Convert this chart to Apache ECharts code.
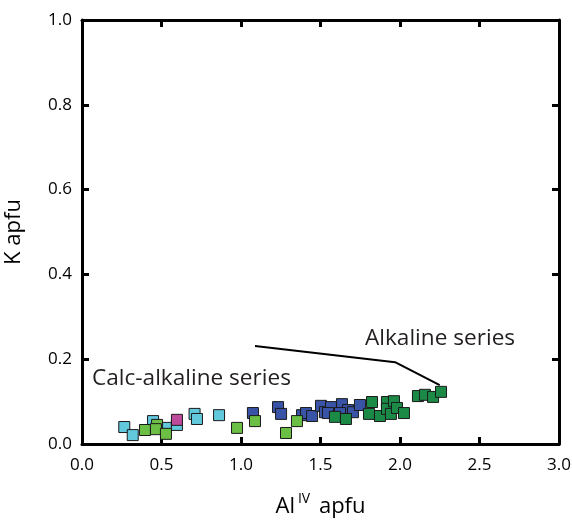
<!DOCTYPE html>
<html><head><meta charset="utf-8">
<script src="https://cdn.jsdelivr.net/npm/echarts@6/dist/echarts.min.js"></script>
<style>html,body{margin:0;padding:0;background:#fff}#c{width:572px;height:522px}</style>
</head><body><div id="c"></div>
<script>
// Data: [Al IV apfu, K apfu]
const cyanPts = [[0.266,0.040],[0.319,0.021],[0.447,0.054],[0.528,0.038],[0.597,0.045],[0.708,0.071],[0.723,0.059],[0.862,0.068]];
const magentaPts = [[0.597,0.057]];
const bluePts = [[1.075,0.073],[1.233,0.087],[1.252,0.071],[1.384,0.068],[1.409,0.073],[1.447,0.066],[1.503,0.090],[1.528,0.075],[1.566,0.087],[1.547,0.073],[1.635,0.094],[1.673,0.080],[1.704,0.075],[1.748,0.092],[1.623,0.073]];
const greenPts = [[0.396,0.033],[0.472,0.045],[0.465,0.035],[0.528,0.024],[0.975,0.038],[1.088,0.054],[1.283,0.026],[1.352,0.054]];
const darkGreenPts = [[1.591,0.064],[1.660,0.059],[1.805,0.071],[1.824,0.099],[1.874,0.066],[1.918,0.099],[1.918,0.083],[1.962,0.101],[1.943,0.071],[1.981,0.085],[2.025,0.073],[2.113,0.113],[2.157,0.116],[2.208,0.111],[2.258,0.123]];
const leaderLine = [[1.088,0.231],[1.969,0.193],[2.25,0.139]];
const xTicks = [0,0.5,1.0,1.5,2.0,2.5,3.0];
const yTicks = [0,0.2,0.4,0.6,0.8,1.0];
const labelAlk = 'Alkaline series';
const labelCalc = 'Calc-alkaline series';

const FONT = '"Open Sans", "Noto Sans", sans-serif';
const chart = echarts.init(document.getElementById('c'));
function sq(data, color, z) {
  return {type:'scatter', data, symbol:'rect', symbolSize:11, z,
    itemStyle:{color, borderColor:'#1a1a1a', borderWidth:1, opacity:1}};
}
const axisCommon = {
  type:'value', axisLine:{show:true, onZero:false, lineStyle:{color:'#000', width:3}},
  axisTick:{show:true, inside:true, length:7, lineStyle:{color:'#000', width:3}},
  splitLine:{show:false}
};
chart.setOption({
  animation:false,
  grid:{left:82, top:20, width:477, height:424, containLabel:false, outerBoundsMode:'none'},
  xAxis:[
    Object.assign({}, axisCommon, {min:0, max:3, interval:0.5, position:'bottom',
      axisLabel:{color:'#000', fontSize:17, fontFamily:FONT, margin:13, formatter:v=>v.toFixed(1)},
      name:'{a|Al}{s|IV}{a| apfu}', nameLocation:'middle', nameGap:46,
      nameTextStyle:{rich:{a:{fontSize:22, fontFamily:FONT, color:'#000', lineHeight:28, verticalAlign:'bottom'},
                           s:{fontSize:14, fontFamily:FONT, color:'#000', verticalAlign:'top', lineHeight:28, padding:[2,3,0,3]}}}}),
    Object.assign({}, axisCommon, {min:0, max:3, interval:0.5, position:'top', axisLabel:{show:false}})
  ],
  yAxis:[
    Object.assign({}, axisCommon, {min:0, max:1, interval:0.2, position:'left',
      axisLabel:{color:'#000', fontSize:17, fontFamily:FONT, margin:10, formatter:v=>v.toFixed(1)},
      name:'K apfu', nameLocation:'middle', nameGap:57,
      nameTextStyle:{fontSize:22, fontFamily:FONT, color:'#000'}}),
    Object.assign({}, axisCommon, {min:0, max:1, interval:0.2, position:'right', axisLabel:{show:false}})
  ],
  series:[
    sq(cyanPts,'#62c9dd',2),
    sq(magentaPts,'#bd4a9c',3),
    sq(bluePts,'#3953a6',4),
    sq(greenPts,'#6cbf45',5),
    sq(darkGreenPts,'#1b8a47',6),
    {type:'line', data:leaderLine, showSymbol:false, symbol:'none', z:7,
      lineStyle:{color:'#000', width:2}}
  ],
  graphic:[
    {type:'text', left:365, top:327, z:10, style:{text:labelAlk, fontSize:22.6, fontFamily:FONT, fill:'#231f20'}},
    {type:'text', left:92, top:367, z:10, style:{text:labelCalc, fontSize:22.6, fontFamily:FONT, fill:'#231f20'}}
  ]
});
</script></body></html>
